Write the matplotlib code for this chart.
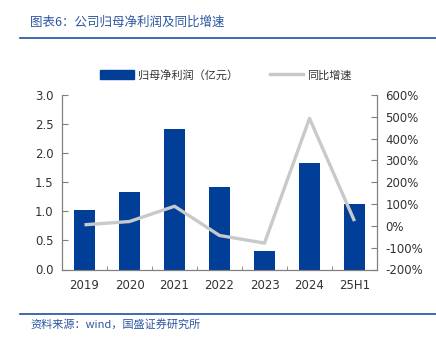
import numpy as np
import matplotlib.pyplot as plt
from matplotlib.lines import Line2D
from matplotlib.patches import Patch

plt.rcParams['font.family'] = ['DejaVu Sans', 'Noto Sans CJK SC']

years = ['2019', '2020', '2021', '2022', '2023', '2024', '25H1']
profit = [1.02, 1.33, 2.42, 1.42, 0.32, 1.83, 1.12]      # 归母净利润（亿元）
growth = [5, 20, 90, -44, -79, 493, 22]                  # 同比增速 %

bar_color = '#003E97'
line_color = '#C9C9C9'
title_color = '#2B55A0'
axis_color = '#7F7F7F'
cjk = ['Noto Sans CJK SC', 'DejaVu Sans']

fig = plt.figure(figsize=(4.36, 3.39), dpi=100)
ax = fig.add_axes([62 / 436, 1 - 269.5 / 339, 315 / 436, 174.5 / 339])

x = np.arange(len(years))
ax.bar(x, profit, width=0.48, color=bar_color, zorder=2)
ax.set_xlim(-0.5, len(years) - 0.5)
ax.set_ylim(0, 3.0)
ax.set_yticks(np.arange(0, 3.01, 0.5))
ax.set_yticklabels([f'{v:.1f}' for v in np.arange(0, 3.01, 0.5)])
ax.set_xticks(x)
ax.set_xticklabels(years)
ax.set_xticks(np.arange(-0.5, len(years), 1), minor=True)
ax.tick_params(axis='x', which='major', length=0, pad=7, labelsize=8.5, colors='#333333')
ax.tick_params(axis='x', which='minor', direction='in', length=3, color=axis_color)
ax.tick_params(axis='y', direction='in', length=4, color=axis_color, labelsize=8.5,
               labelcolor='#333333', pad=6)

ax2 = ax.twinx()
ax2.plot(x, growth, color=line_color, linewidth=2.4, zorder=3, solid_capstyle='butt')
ax2.set_ylim(-200, 600)
ax2.set_yticks(np.arange(-200, 601, 100))
ax2.set_yticklabels([f'{v}%' for v in range(-200, 601, 100)])
ax2.tick_params(axis='y', direction='in', length=4, color=axis_color, labelsize=8.5,
                labelcolor='#333333', pad=6)

for a in (ax, ax2):
    a.spines['top'].set_visible(False)
    for s in ('left', 'right', 'bottom'):
        a.spines[s].set_color(axis_color)
        a.spines[s].set_linewidth(0.8)

# legend
handles = [Patch(color=bar_color), Line2D([0], [0], color=line_color, linewidth=2.4)]
leg = fig.legend(handles, ['归母净利润（亿元）', '同比增速'], loc='center',
                 bbox_to_anchor=(226 / 436, 1 - 75 / 339), ncol=2, frameon=False,
                 prop={'family': cjk, 'size': 8}, handlelength=3.0, handleheight=0.9,
                 columnspacing=2.9, handletextpad=0.35)
for t in leg.get_texts():
    t.set_color('#333333')

# header and footer
fig.text(30 / 436, 1 - 22 / 339, '图表6：公司归母净利润及同比增速', family=cjk, size=9,
         color=title_color, style='italic', va='center')
fig.add_artist(Line2D([20 / 436, 1], [1 - 38 / 339] * 2, color='#1F4FA3', linewidth=1.2))
fig.add_artist(Line2D([20 / 436, 1], [1 - 313.5 / 339] * 2, color='#1F4FA3', linewidth=1.2))
fig.text(30 / 436, 1 - 324 / 339, '资料来源：wind，国盛证券研究所', family=cjk, size=8,
         color=title_color, style='italic', va='center')

fig.savefig('out.png', dpi=100)
